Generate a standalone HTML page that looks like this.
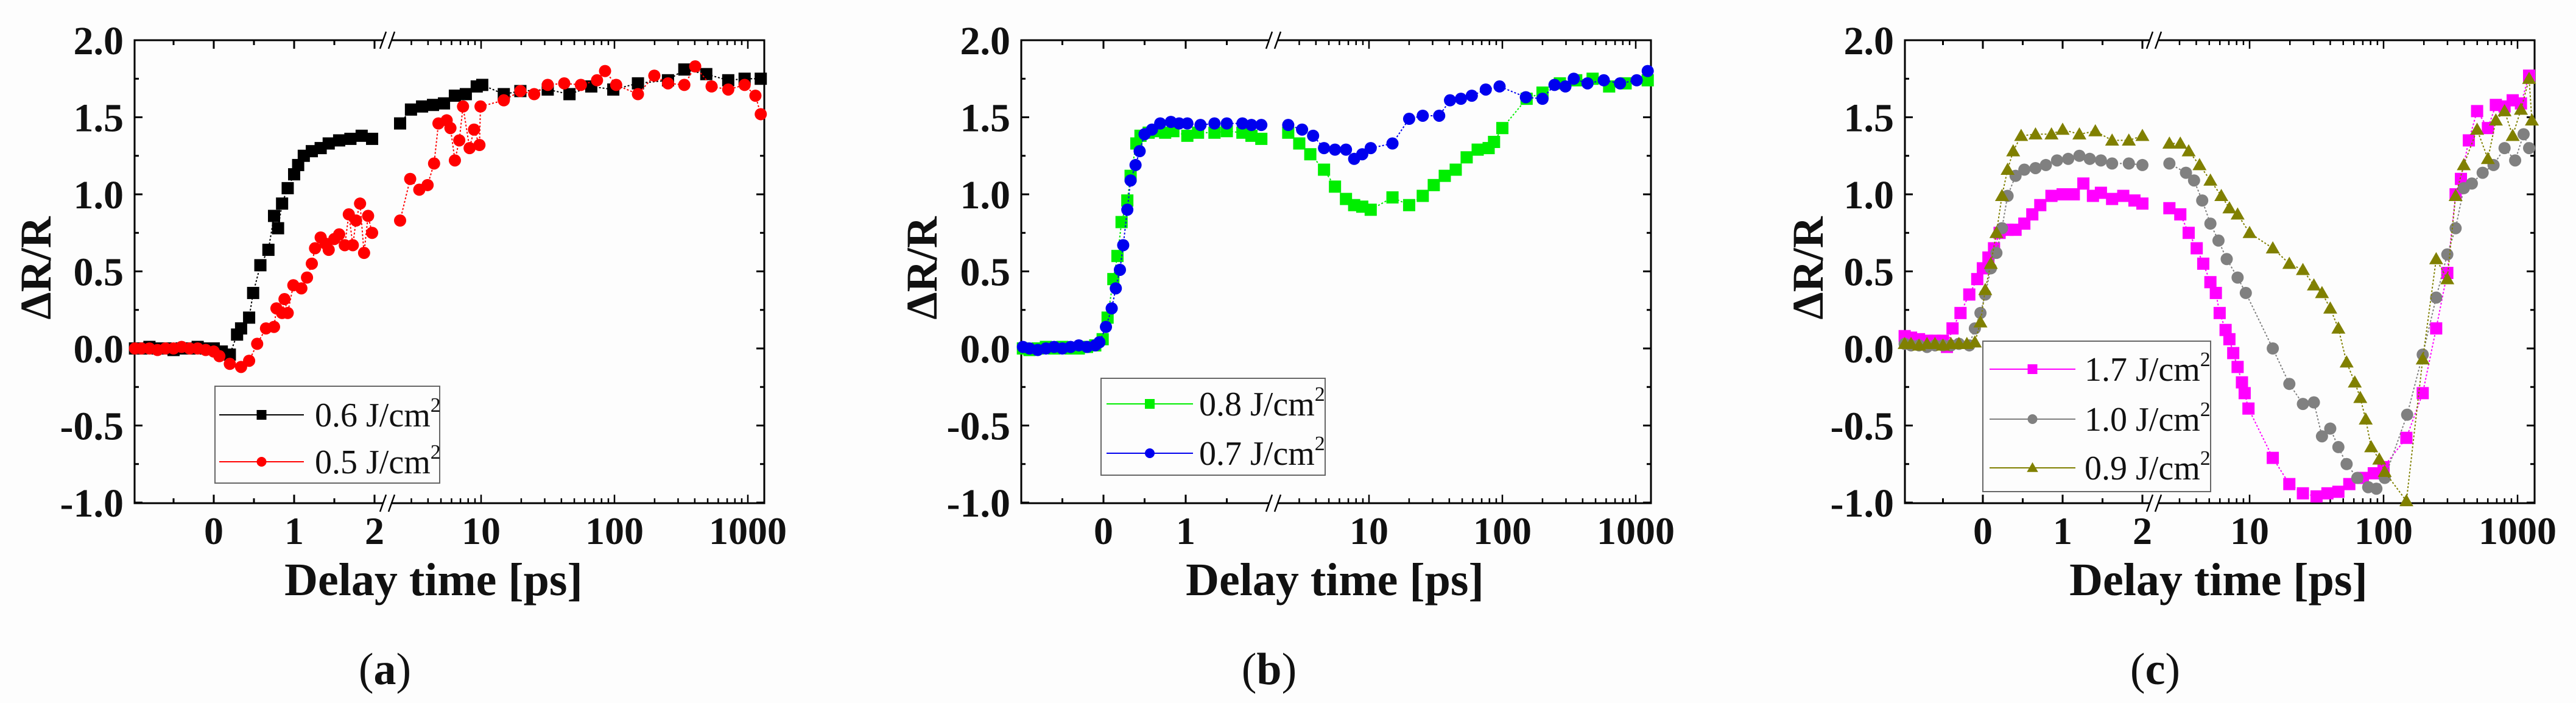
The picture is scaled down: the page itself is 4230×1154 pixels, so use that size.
<!DOCTYPE html>
<html><head><meta charset="utf-8">
<style>
html,body{margin:0;padding:0;background:#fdfdfd;}
svg{display:block;}
text{font-family:"Liberation Serif",serif;fill:#111;}
</style></head>
<body>
<svg id="fig" width="4230" height="1154" viewBox="0 0 4230 1154" xmlns="http://www.w3.org/2000/svg">
<rect x="0" y="0" width="4230" height="1154" fill="#fdfdfd"/>
</svg>
<script>
// ---------- DATA ----------
// Panel (a)
const aBlackT = [-0.98,-0.9,-0.8,-0.7,-0.6,-0.5,-0.4,-0.3,-0.2,-0.1,0,0.1,0.2,0.29,0.34,0.44,0.49,0.58,0.68,0.75,0.8,0.85,0.92,1.0,1.05,1.12,1.22,1.33,1.43,1.56,1.7,1.84,1.97,2.47,2.98,3.61,4.36,5.27,6.36,7.68,9.27,10.2,14.8,19.7,31.6,46,67,98,150,252,334,488,713,946,1250];
const aBlackV = [0,0,0.01,0,0,-0.01,0,0,0.01,0,0,-0.02,-0.04,0.09,0.13,0.2,0.36,0.54,0.64,0.86,0.78,0.94,1.04,1.13,1.19,1.25,1.28,1.3,1.33,1.35,1.36,1.38,1.36,1.46,1.55,1.57,1.58,1.59,1.64,1.65,1.7,1.71,1.65,1.67,1.68,1.65,1.7,1.68,1.72,1.74,1.81,1.78,1.74,1.75,1.75];
const aRedT = [-0.98,-0.9,-0.8,-0.7,-0.6,-0.5,-0.4,-0.3,-0.2,-0.1,0,0.07,0.2,0.34,0.44,0.54,0.65,0.75,0.78,0.85,0.88,0.92,0.99,1.09,1.16,1.22,1.26,1.33,1.39,1.43,1.5,1.56,1.63,1.68,1.73,1.77,1.82,1.87,1.92,1.97,2.47,2.94,3.44,3.97,4.44,4.79,5.52,5.89,6.36,6.86,7.32,8.2,8.85,9.72,9.9,14.8,19.7,25,31.6,42,56,74,85,103,150,199,252,334,403,535,713,946,1140,1250];
const aRedV = [0,0,0,-0.01,0,0,0.01,0,0,-0.01,-0.02,-0.05,-0.1,-0.12,-0.08,0.03,0.13,0.14,0.26,0.23,0.32,0.23,0.41,0.39,0.46,0.55,0.65,0.72,0.68,0.64,0.71,0.74,0.67,0.87,0.67,0.83,0.94,0.62,0.86,0.75,0.83,1.1,1.03,1.06,1.2,1.46,1.48,1.43,1.22,1.35,1.57,1.3,1.42,1.32,1.57,1.61,1.67,1.65,1.71,1.72,1.71,1.74,1.8,1.71,1.65,1.77,1.72,1.71,1.83,1.7,1.68,1.71,1.64,1.52];
// Panel (b)
const bGreenT = [-0.98,-0.9,-0.8,-0.7,-0.6,-0.5,-0.4,-0.3,-0.2,-0.1,-0.01,0.05,0.12,0.17,0.22,0.29,0.33,0.4,0.45,0.55,0.65,0.75,0.85,1.02,1.15,1.35,1.5,1.69,1.8,1.92,2.48,3.0,3.63,4.6,5.56,6.72,7.74,8.9,10.3,15,20,25.3,30.6,37,44.7,54,65.3,78.9,86.6,100,152,200,270,358,475,632,840,1230];
const bGreenV = [0,-0.01,0,0.01,0,0.01,0,0,0.01,0.02,0.06,0.2,0.45,0.6,0.82,0.96,1.12,1.33,1.38,1.4,1.41,1.4,1.41,1.38,1.4,1.4,1.41,1.4,1.38,1.36,1.4,1.33,1.26,1.16,1.05,0.97,0.93,0.92,0.9,0.98,0.93,0.99,1.06,1.12,1.16,1.24,1.29,1.3,1.34,1.43,1.62,1.66,1.72,1.74,1.75,1.7,1.72,1.74];
const bBlueT = [-0.98,-0.9,-0.8,-0.7,-0.6,-0.5,-0.4,-0.3,-0.2,-0.1,-0.05,0.03,0.1,0.15,0.2,0.24,0.29,0.33,0.39,0.44,0.5,0.59,0.69,0.82,0.92,1.02,1.18,1.35,1.5,1.69,1.8,1.92,2.48,3.15,3.81,4.6,5.56,6.72,7.74,8.9,10.3,15,20,25.3,33.6,40.5,48.9,59,75.1,95.3,150,200,246,297,343,435,576,763,1017,1230];
const bBlueV = [0.01,0,-0.01,0,0.01,0,0.01,0.02,0.01,0.02,0.04,0.14,0.26,0.39,0.51,0.67,0.9,1.09,1.19,1.28,1.39,1.42,1.46,1.47,1.46,1.46,1.45,1.46,1.46,1.46,1.45,1.45,1.45,1.42,1.38,1.3,1.29,1.29,1.23,1.26,1.3,1.33,1.49,1.51,1.51,1.61,1.62,1.64,1.68,1.7,1.63,1.62,1.71,1.7,1.75,1.72,1.74,1.72,1.74,1.8];
// Panel (c)
const cMagT = [-0.98,-0.9,-0.8,-0.7,-0.6,-0.5,-0.45,-0.38,-0.28,-0.17,-0.07,0,0.07,0.14,0.21,0.31,0.41,0.52,0.62,0.72,0.86,1.0,1.14,1.26,1.38,1.48,1.62,1.76,1.9,2.0,2.52,3.04,3.51,4.03,4.51,5.1,5.6,5.98,6.62,7.07,7.55,8.14,8.77,9.19,9.81,14.9,19.8,25,31.6,38.1,46,55.5,70.1,84.5,100,148,196,247,299,345,378,433,499,601,689,800,920,1060,1220];
const cMagV = [0.08,0.07,0.06,0.05,0.05,0.05,0.01,0.13,0.23,0.35,0.45,0.52,0.59,0.65,0.75,0.77,0.77,0.81,0.87,0.93,0.99,1.0,1.0,1.07,0.99,1.01,0.97,0.99,0.96,0.94,0.91,0.87,0.75,0.65,0.55,0.43,0.36,0.23,0.12,0.06,-0.03,-0.12,-0.22,-0.29,-0.39,-0.71,-0.88,-0.94,-0.96,-0.94,-0.93,-0.88,-0.84,-0.81,-0.77,-0.58,-0.29,0.13,0.49,1.0,1.1,1.35,1.54,1.43,1.58,1.57,1.61,1.59,1.77];
const cGrayT = [-0.98,-0.9,-0.8,-0.7,-0.6,-0.5,-0.4,-0.3,-0.17,-0.1,-0.03,0.03,0.1,0.17,0.24,0.31,0.41,0.52,0.66,0.79,0.93,1.07,1.21,1.34,1.48,1.62,1.83,2.0,2.52,3.35,3.85,4.43,5.1,5.86,6.75,8.14,9.37,14.9,19.8,25,30.2,34.7,40,46,53,63.7,76.8,88.4,102,150,196,247,299,345,397,456,549,662,800,960,1110,1220];
const cGrayV = [0.03,0.02,0.02,0.01,0.02,0.02,0.02,0.03,0.02,0.13,0.23,0.35,0.52,0.62,0.78,0.99,1.12,1.16,1.17,1.19,1.22,1.23,1.25,1.23,1.22,1.2,1.2,1.19,1.2,1.14,1.09,0.96,0.81,0.7,0.58,0.46,0.36,0.0,-0.23,-0.36,-0.35,-0.57,-0.52,-0.64,-0.75,-0.84,-0.9,-0.91,-0.84,-0.43,-0.04,0.33,0.61,0.78,1.04,1.07,1.14,1.19,1.3,1.22,1.39,1.3];
const cOliveT = [-0.98,-0.9,-0.8,-0.7,-0.6,-0.5,-0.4,-0.3,-0.2,-0.1,-0.03,0.03,0.1,0.17,0.24,0.31,0.38,0.48,0.66,0.86,1.0,1.21,1.41,1.62,1.83,2.0,2.52,3.04,3.51,4.23,5.1,6.15,7.07,8.14,10,14.9,19.8,25,30.2,34.7,40,46,53,61,67,73.6,80.8,92.9,102,148,196,247,299,345,397,499,601,689,800,920,1060,1220,1280];
const cOliveV = [0.03,0.03,0.02,0.03,0.03,0.02,0.03,0.03,0.03,0.04,0.17,0.38,0.55,0.75,0.99,1.16,1.28,1.38,1.39,1.39,1.42,1.39,1.41,1.35,1.35,1.38,1.33,1.33,1.28,1.19,1.09,0.99,0.91,0.87,0.75,0.65,0.55,0.51,0.41,0.36,0.26,0.13,-0.09,-0.22,-0.32,-0.46,-0.64,-0.72,-0.8,-0.99,-0.07,0.58,0.45,0.99,1.19,1.42,1.23,1.48,1.54,1.38,1.55,1.75,1.48];
const yTickLabels = ["-1.0","-0.5","0.0","0.5","1.0","1.5","2.0"];
const yTickValues = [-1,-0.5,0,0.5,1,1.5,2];
const linTickValuesAC = [0,1,2];
const linTickValuesB = [0,1];
const logTickValues = [10,100,1000];

// ---------- DRAWING ----------
const NS = "http://www.w3.org/2000/svg";
const svg = document.getElementById("fig");
function mk(tag, attrs, parent){
  const e = document.createElementNS(NS, tag);
  for (const k in attrs) e.setAttribute(k, attrs[k]);
  (parent||svg).appendChild(e);
  return e;
}
const TOP = 66, BOT = 826;
function yScale(v){ return 572 - v*253; }

function panel(cfg){
  const g = mk("g", {});
  
  
  const xs = function(t){
    if (t <= cfg.linMax) return cfg.x0 + cfg.unit*t;
    return cfg.x10 + cfg.dec*Math.log10(t/10);
  };
  const fr = mk("rect", {x:cfg.left, y:TOP, width:cfg.right-cfg.left, height:BOT-TOP, fill:"none", stroke:"#000", "stroke-width":3}, g);
  
  
  for (let i=0;i<yTickValues.length;i++){
    const y = yScale(yTickValues[i]);
    mk("line",{x1:cfg.left,x2:cfg.left+13,y1:y,y2:y,stroke:"#000","stroke-width":3},g);
    mk("line",{x1:cfg.right,x2:cfg.right-13,y1:y,y2:y,stroke:"#000","stroke-width":3},g);
    if (i < yTickValues.length-1){
      const ym = yScale(yTickValues[i]+0.25);
      mk("line",{x1:cfg.left,x2:cfg.left+7,y1:ym,y2:ym,stroke:"#000","stroke-width":3},g);
      mk("line",{x1:cfg.right,x2:cfg.right-7,y1:ym,y2:ym,stroke:"#000","stroke-width":3},g);
    }
    const tl = mk("text",{x:cfg.left-18,y:y+23,"text-anchor":"end","font-size":66,"font-weight":"bold"},g);
    
    
    tl.textContent = yTickLabels[i];
  }
  for (let v=-0.5; v<=cfg.linMax-0.1; v+=0.5){
    const x = xs(v);
    const major = Math.abs(v-Math.round(v))<1e-6;
    const L = major?14:8;
    mk("line",{x1:x,x2:x,y1:BOT,y2:BOT-L,stroke:"#000","stroke-width":3},g);
    mk("line",{x1:x,x2:x,y1:TOP,y2:TOP+L,stroke:"#000","stroke-width":3},g);
  }
  for (const v of cfg.linTicks){
    const t = mk("text",{x:xs(v),y:893,"text-anchor":"middle","font-size":64,"font-weight":"bold"},g);
    
    
    t.textContent = String(v);
  }
  for (let d=1; d<=1000; d*=10){
    for (let m=1; m<=9; m++){
      const t = d*m;
      if (t < cfg.logMin || t > cfg.logMax) continue;
      const x = xs(t);
      const L = m===1?14:8;
      mk("line",{x1:x,x2:x,y1:BOT,y2:BOT-L,stroke:"#000","stroke-width":2.5},g);
      mk("line",{x1:x,x2:x,y1:TOP,y2:TOP+L,stroke:"#000","stroke-width":2.5},g);
    }
  }
  for (const v of logTickValues){
    const t = mk("text",{x:xs(v),y:893,"text-anchor":"middle","font-size":64,"font-weight":"bold"},g);
    
    
    t.textContent = String(v);
  }
  const bx = cfg.breakX;
  for (const yy of [TOP, BOT]){
    mk("rect",{x:bx-6,y:yy-4,width:12,height:8,fill:"#fdfdfd"},g);
    const b1 = mk("line",{x1:bx-12,y1:yy+14,x2:bx-2,y2:yy-14,stroke:"#000","stroke-width":2.5},g);
    
    
    mk("line",{x1:bx+2,y1:yy+14,x2:bx+12,y2:yy-14,stroke:"#000","stroke-width":2.5},g);
  }
  const xt = mk("text",{x:cfg.titleX,y:977,"text-anchor":"middle","font-size":76,"font-weight":"bold"},g);
  
  
  xt.textContent = "Delay time [ps]";
  const yt = mk("text",{x:0,y:0,"text-anchor":"middle","font-size":72,"font-weight":"bold",transform:"translate("+(cfg.ylabX+25)+",440) rotate(-90)"},g);
  
  
  yt.textContent = "ΔR/R";
  const pl = mk("text",{x:cfg.capX,y:1123,"text-anchor":"middle","font-size":74},g);
  
  
  pl.innerHTML = '(<tspan font-weight="bold">'+cfg.id+'</tspan>)';
  for (const s of cfg.series){
    const sg = mk("g",{},g);
    
    
    let d = "";
    for (let i=0;i<s.t.length;i++){
      const brk = i>0 && s.t[i-1] <= cfg.linMax && s.t[i] > cfg.linMax;
      d += ((i===0||brk)?"M":"L") + xs(s.t[i]).toFixed(1) + "," + yScale(s.v[i]).toFixed(1);
    }
    mk("path",{d:d,fill:"none",stroke:s.color,"stroke-width":2,"stroke-dasharray":"3,3"},sg);
    for (let i=0;i<s.t.length;i++){
      const mkr = marker(s.shape, xs(s.t[i]), yScale(s.v[i]), s.color, 10, sg);
      
      
    }
  }
  const L = cfg.legend;
  const lg = mk("g",{},g);
  
  
  mk("rect",{x:L.x1,y:L.y1,width:L.x2-L.x1,height:L.y2-L.y1,fill:"#fdfdfd",stroke:"#666","stroke-width":2},lg);
  for (let i=0;i<cfg.series.length;i++){
    const s = cfg.series[i];
    const y = L.ys[i];
    const eg = mk("g",{},lg);
    
    
    mk("line",{x1:L.lx1,x2:L.lx2,y1:y,y2:y,stroke:s.color,"stroke-width":2},eg);
    marker(s.shape,(L.lx1+L.lx2)/2,y,s.color,8,eg);
    const tx = mk("text",{x:L.tx,y:y+19,"font-size":56},eg);
    tx.innerHTML = s.label + ' J/cm<tspan font-size="34" dy="-24">2</tspan>';
  }
}
function marker(shape,x,y,color,r,parent){
  if (shape==="sq") return mk("rect",{x:x-r,y:y-r,width:2*r,height:2*r,fill:color},parent);
  if (shape==="ci") return mk("circle",{cx:x,cy:y,r:r,fill:color},parent);
  return mk("polygon",{points:(x)+","+(y-r*1.15)+" "+(x-r*1.15)+","+(y+r*0.85)+" "+(x+r*1.15)+","+(y+r*0.85),fill:color},parent);
}

panel({id:"a", left:221, right:1255, x0:351, unit:132, linMax:2.15, x10:790, dec:219, logMin:2.2, logMax:1330, breakX:636,
  linTicks:linTickValuesAC, titleX:712, ylabX:58, capX:632,
  series:[
    {name:"0.6", t:aBlackT, v:aBlackV, color:"#000000", shape:"sq", label:"0.6"},
    {name:"0.5", t:aRedT, v:aRedV, color:"#ff0000", shape:"ci", label:"0.5"}],
  legend:{x1:353,y1:634,x2:722,y2:793,ys:[681,758],lx1:360,lx2:499,tx:517}});
panel({id:"b", left:1677, right:2711, x0:1812, unit:135, linMax:2.07, x10:2248, dec:219, logMin:2.2, logMax:1300, breakX:2091,
  linTicks:linTickValuesB, titleX:2192, ylabX:1513, capX:2084,
  series:[
    {name:"0.8", t:bGreenT, v:bGreenV, color:"#00ee00", shape:"sq", label:"0.8"},
    {name:"0.7", t:bBlueT, v:bBlueV, color:"#0000ee", shape:"ci", label:"0.7"}],
  legend:{x1:1808,y1:621,x2:2176,y2:780,ys:[663,744],lx1:1817,lx2:1959,tx:1969}});
panel({id:"c", left:3128, right:4162, x0:3256, unit:131, linMax:2.15, x10:3694, dec:220, logMin:2.2, logMax:1330, breakX:3537,
  linTicks:linTickValuesAC, titleX:3643, ylabX:2968, capX:3539,
  series:[
    {name:"1.7", t:cMagT, v:cMagV, color:"#ff00ff", shape:"sq", label:"1.7"},
    {name:"1.0", t:cGrayT, v:cGrayV, color:"#808080", shape:"ci", label:"1.0"},
    {name:"0.9", t:cOliveT, v:cOliveV, color:"#808000", shape:"tr", label:"0.9"}],
  legend:{x1:3256,y1:560,x2:3630,y2:807,ys:[606,688,768],lx1:3267,lx2:3408,tx:3423}});
</script>
</body></html>
